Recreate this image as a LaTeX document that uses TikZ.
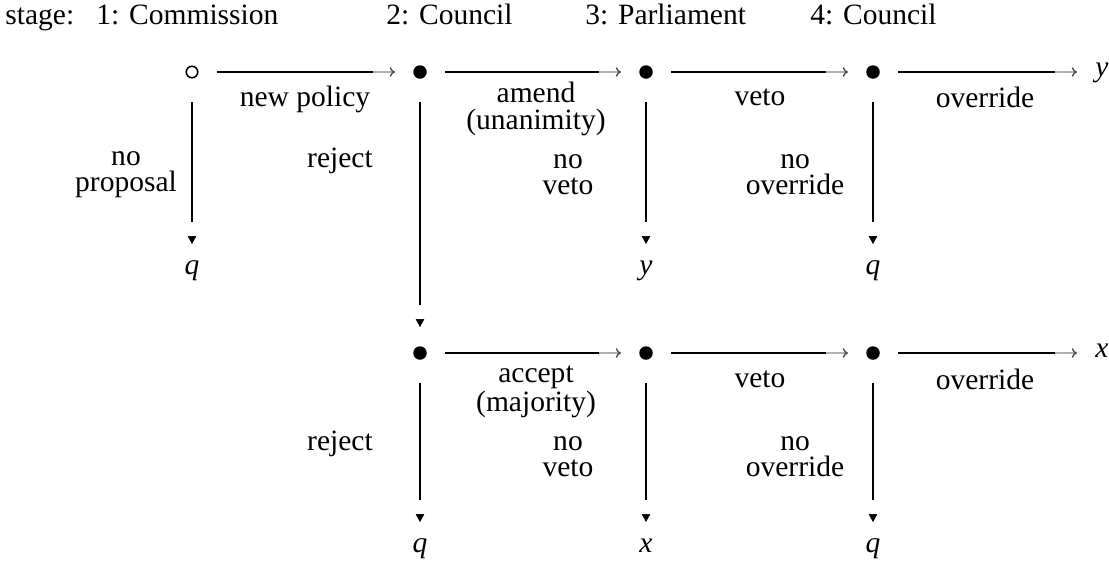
\documentclass[tikz,border=0pt]{standalone}
\usepackage{fontspec}
\setmainfont{Liberation Serif}
\usetikzlibrary{calc,arrows.meta}

\newcommand{\gamefont}{\fontsize{16.8}{15}\selectfont}

\tikzset{
  dot/.style={circle,fill,inner sep=0pt,minimum size=0.27cm},
  opendot/.style={circle,draw,line width=0.9pt,inner sep=0pt,minimum size=0.23cm},
  outcome/.style={font=\gamefont\itshape,inner sep=0pt,text height=1.5ex,text depth=0.5ex},
  lbl/.style={align=center,inner sep=0pt},
  move/.style={line width=0.8pt},
  movetip/.style={line width=0.8pt,gray!60,-{To[length=3pt,width=5.5pt,black!70]}},
  droptip/.style={-{Triangle[length=0.16cm,width=0.17cm]}},
}

\begin{document}
\begin{tikzpicture}[x=0.02cm,y=-0.02cm,every node/.style={font=\gamefont}]
\useasboundingbox (0,0) rectangle (1109,562);

% --- stages ---
\node[anchor=base west,inner sep=0pt] (st) at (5,24) {stage:};
\node[anchor=base west,inner sep=0pt] (s1) at (96,24) {1: Commission};
\node[anchor=base west,inner sep=0pt] (s2) at (386,24) {2: Council};
\node[anchor=base west,inner sep=0pt] (s3) at (585,24) {3: Parliament};
\node[anchor=base west,inner sep=0pt] (s4) at (810,24) {4: Council};

% top row
\node[opendot] (c0) at (192,72) {};
\node[dot] (b1) at (420,72) {};
\node[dot] (p1) at (646,72) {};
\node[dot] (c1) at (873,72) {};
\node[outcome] (y1) at (1102,72) {y};

% bottom row
\node[dot] (b2) at (420,353) {};
\node[dot] (p2) at (646,353) {};
\node[dot] (c2) at (873,353) {};
\node[outcome] (x2) at (1102,353) {x};

% end points
\node[outcome] (q1) at (192,270) {q};
\node[outcome] (y2) at (646,270) {y};
\node[outcome] (q3) at (873,270) {q};
\node[outcome] (q4) at (420,548) {q};
\node[outcome] (x5) at (646,548) {x};
\node[outcome] (q6) at (873,548) {q};

% moves
\foreach \a/\b in {c0/b1,b1/p1,p1/c1,c1/y1,b2/p2,p2/c2,c2/x2} {
  \draw[move] ($(\a)!0.5cm!(\b)$) -- ($(\b)!0.94cm!(\a)$);
  \draw[movetip] ($(\b)!0.94cm!(\a)$) -- ($(\b)!0.5cm!(\a)$);
}
\foreach \a/\b in {c0/q1,b1/b2,p1/y2,c1/q3,b2/q4,p2/x5,c2/q6} {
  \draw[move] ($(\a)!0.6cm!(\b)$) -- ($(\b)!0.96cm!(\a)$);
  \draw[droptip] ($(\b)!0.68cm!(\a)$) -- ($(\b)!0.52cm!(\a)$);
}

% labels
\node[lbl] (l1) at (305,99) {new policy};
\node[lbl] (l2) at (536,109) {amend\\(unanimity)};
\node[lbl] (l3) at (760,97) {veto};
\node[lbl] (l4) at (985,97) {override};
\node[lbl] (l5) at (126,175) {no\\proposal};
\node[lbl] (l6) at (340,161) {reject};
\node[lbl] (l7) at (568,175) {no\\veto};
\node[lbl] (l8) at (795,175) {no\\override};

\node[lbl] (l9) at (536,392) {accept\\(majority)};
\node[lbl] (l10) at (760,379) {veto};
\node[lbl] (l11) at (985,379) {override};
\node[lbl] (l12) at (340,444) {reject};
\node[lbl] (l13) at (568,457) {no\\veto};
\node[lbl] (l14) at (795,457) {no\\override};

\end{tikzpicture}
\end{document}
